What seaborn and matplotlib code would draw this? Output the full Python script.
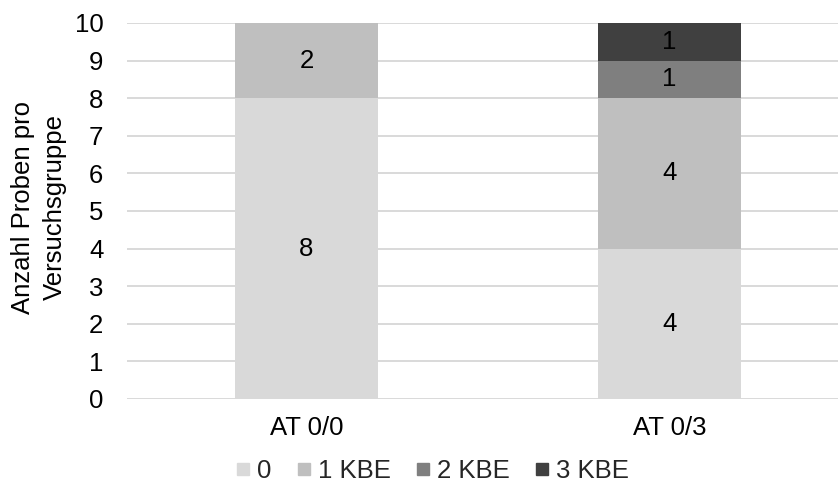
import matplotlib
matplotlib.use("Agg")
import matplotlib.pyplot as plt
from matplotlib.lines import Line2D
import numpy as np
import pandas as pd
import seaborn as sns

# Data: number of samples per test group by colony count (KBE)
groups = ["AT 0/0", "AT 0/3"]
series_names = ["0", "1 KBE", "2 KBE", "3 KBE"]
kbe0 = [8, 4]
kbe1 = [2, 4]
kbe2 = [0, 1]
kbe3 = [0, 1]
colors = ["#d9d9d9", "#bfbfbf", "#7f7f7f", "#404040"]
yticks = list(range(0, 11))

sns.set_theme(style="white")
plt.rcParams["font.family"] = ["Liberation Sans", "DejaVu Sans"]

layers = [kbe0, kbe1, kbe2, kbe3]
cum = np.cumsum(np.array(layers), axis=0)

fig = plt.figure(figsize=(8.39, 4.95), dpi=100)
ax = fig.add_axes([127 / 839, 1 - 399 / 495, (838 - 127) / 839, (399 - 23) / 495])

# Stack by overlaying cumulative totals, top layer first
for i in range(len(layers) - 1, -1, -1):
    df = pd.DataFrame({"group": groups, "value": cum[i]})
    sns.barplot(data=df, x="group", y="value", color=colors[i], width=0.395,
                saturation=1, ax=ax, zorder=2, linewidth=0)

# Segment value labels
fs = 18.5
for i, vals in enumerate(layers):
    for j, v in enumerate(vals):
        if v > 0:
            ax.text(j, cum[i][j] - v / 2, str(v), ha="center", va="center",
                    fontsize=fs, color="#000000", zorder=3)

ax.set_ylim(0, 10)
ax.set_xlim(-0.4945, 1.464)
ax.set_yticks(yticks)
ax.set_yticklabels([str(t) for t in yticks])
ax.yaxis.grid(True, color="#d9d9d9", linewidth=1.4, zorder=0)
ax.set_axisbelow(True)
for s in ax.spines.values():
    s.set_visible(False)
ax.tick_params(axis="both", length=0, labelsize=fs, colors="#000000")
ax.tick_params(axis="y", pad=17)
ax.tick_params(axis="x", pad=12)
ax.set_xlabel("")
ax.set_ylabel("Anzahl Proben pro\nVersuchsgruppe", fontsize=fs, color="#000000",
              linespacing=1.45)
ax.yaxis.set_label_coords(-0.084, 0.51)

handles = [Line2D([0], [0], marker="s", linestyle="", markersize=8.5,
                  markerfacecolor=c, markeredgecolor=c) for c in colors]
fig.legend(handles, series_names, loc="center", bbox_to_anchor=(0.513, 1 - 471 / 495),
           ncol=4, frameon=False, fontsize=fs, handletextpad=0.1,
           columnspacing=0.8, handlelength=0.9, borderaxespad=0)

fig.savefig("out.png", dpi=100, facecolor="white")
